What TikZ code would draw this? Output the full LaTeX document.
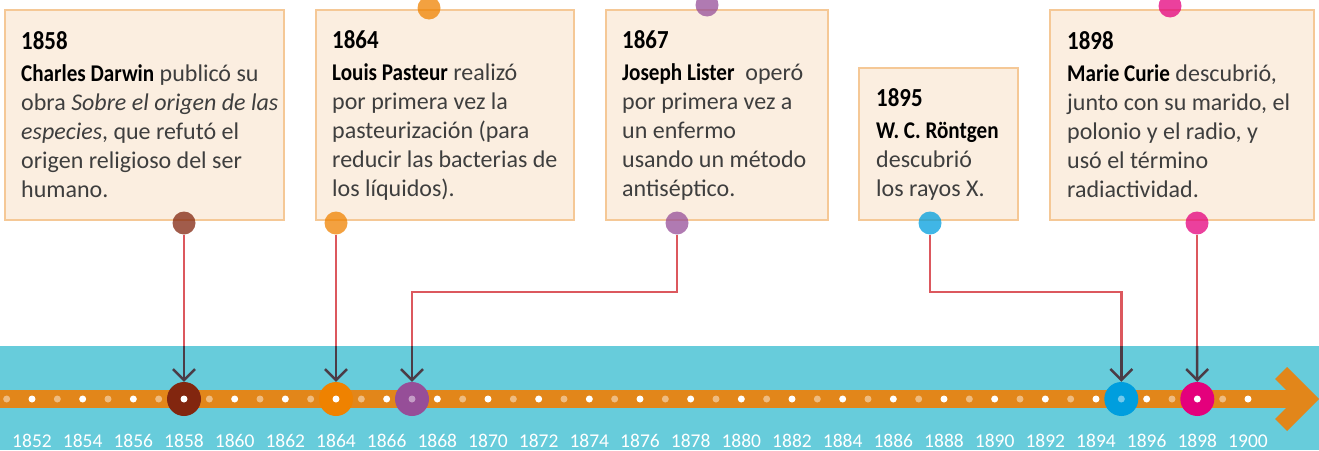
\documentclass[tikz,border=0pt]{standalone}
\usepackage{fontspec}
\setmainfont{Carlito}[BoldFeatures={FakeStretch=0.88}]
\usetikzlibrary{arrows.meta,positioning,calc}
\definecolor{bandcyan}{RGB}{103,204,219}
\definecolor{barorange}{RGB}{226,134,26}
\definecolor{boxfill}{RGB}{251,238,224}
\definecolor{boxline}{RGB}{245,200,150}
\definecolor{linkred}{RGB}{220,88,94}
\definecolor{pointerdark}{RGB}{75,60,70}
\definecolor{bodygray}{RGB}{62,62,62}
\definecolor{darwinc}{RGB}{130,38,15}
\definecolor{pasteurc}{RGB}{239,130,0}
\definecolor{listerc}{RGB}{150,78,152}
\definecolor{rontgenc}{RGB}{0,158,222}
\definecolor{curiec}{RGB}{228,0,124}

\begin{document}
\begin{tikzpicture}[x=1pt, y=-1pt,
    event/.style={anchor=north west, draw=boxline, line width=2pt, fill=boxfill, minimum height=210pt, inner sep=0pt},
    words/.style={inner sep=0pt, align=left, font=\fontsize{24}{29}\selectfont, text=bodygray},
    pin/.style={circle, fill=#1, opacity=0.75, minimum size=23pt, inner sep=0pt},
    stamp/.style={circle, fill=#1, minimum size=34pt, inner sep=0pt},
    link/.style={draw=linkred, line width=2.5pt},
    pointer/.style={draw=pointerdark, line width=2.5pt, -{Straight Barb[length=11pt, width=22pt]}},
    yr/.style={text=white, font=\fontsize{19.5}{20}\selectfont, anchor=base, inner sep=0pt},
]
    \useasboundingbox (0,0) rectangle (1319,450);
    \clip (0,0) rectangle (1319,450);

    % timeline band and bar
    \fill[bandcyan] (0,346) rectangle (1319,450);
    \coordinate (bandtop) at (0,346);
    \fill[barorange] (0,390) rectangle (1296,408);
    \fill[barorange] (1275,379) -- (1287,367) -- (1319,399) -- (1287,431) -- (1275,419) -- (1295,399) -- cycle;

    % boxes
    \node[event, minimum width=279pt] (darwin) at (4,9) {};
    \node[event, minimum width=258pt] (pasteur) at (315,9) {};
    \node[event, minimum width=222pt] (lister) at (605,9) {};
    \node[event, minimum width=159pt, minimum height=152pt] (rontgen) at (858,67) {};
    \node[event, minimum width=264pt] (curie) at (1049,9) {};

    \node[words, right=17pt of darwin.west] (darwin-text) {{\color{black}\bfseries\fontsize{26}{29}\selectfont 1858}\\[3pt]
        {\color{black}\bfseries Charles Darwin} publicó su\\ obra \textit{Sobre el origen de las}\\ \textit{especies}, que refutó el\\ origen religioso del ser\\ humano.};
    \node[words, right=17pt of pasteur.west] (pasteur-text) {{\color{black}\bfseries\fontsize{26}{29}\selectfont 1864}\\[3pt]
        {\color{black}\bfseries Louis Pasteur} realizó\\ por primera vez la\\ pasteurización (para\\ reducir las bacterias de\\ los líquidos).};
    \node[words, right=17pt of lister.west] (lister-text) {{\color{black}\bfseries\fontsize{26}{29}\selectfont 1867}\\[3pt]
        {\color{black}\bfseries Joseph Lister}\ \ operó\\ por primera vez a\\ un enfermo\\ usando un método\\ antiséptico.};
    \node[words, right=18pt of rontgen.west] (rontgen-text) {{\color{black}\bfseries\fontsize{26}{29}\selectfont 1895}\\[3pt]
        {\color{black}\bfseries W. C. Röntgen}\\ descubrió\\ los rayos X.};
    \node[words, right=18pt of curie.west] (curie-text) {{\color{black}\bfseries\fontsize{26}{29}\selectfont 1898}\\[3pt]
        {\color{black}\bfseries Marie Curie} descubrió,\\ junto con su marido, el\\ polonio y el radio, y\\ usó el término\\ radiactividad.};

    % pins on the boxes
    \node[pin=darwinc] (darwin-pin) at (184,223) {};
    \node[pin=pasteurc] (pasteur-pin) at (336,223) {};
    \node[pin=pasteurc] (pasteur-top) at (429,8) {};
    \node[pin=listerc] (lister-pin) at (677,223) {};
    \node[pin=listerc] (lister-top) at (707,5) {};
    \node[pin=rontgenc] (rontgen-pin) at (930,223) {};
    \node[pin=curiec] (curie-pin) at (1197,223) {};
    \node[pin=curiec] (curie-top) at (1170,6) {};

    % events on the line
    \node[stamp=darwinc] (e1858) at (184,399) {};
    \node[stamp=pasteurc] (e1864) at (336,399) {};
    \node[stamp=listerc] (e1867) at (412,399) {};
    \node[stamp=rontgenc] (e1895) at (1121.3,399) {};
    \node[stamp=curiec] (e1898) at (1197.3,399) {};

    % dots and years
    \foreach \yr in {1851,...,1900} {
        \pgfmathsetmacro\px{32+(\yr-1852)*25.333}
        \pgfmathsetmacro\op{mod(\yr,2)==1 ? 0.45 : 1}
        \fill[white, opacity=\op] (\px,399) circle (3.5);
    }
    \foreach \yr in {1852,1854,...,1900} {
        \pgfmathsetmacro\px{32+(\yr-1852)*25.333}
        \node[yr] (y\yr) at (\px,447) {\yr};
    }

    % connectors
    \draw[link] (darwin-pin.south) -- (darwin-pin |- bandtop);
    \draw[pointer] (darwin-pin |- bandtop) -- (e1858);
    \draw[link] (pasteur-pin.south) -- (pasteur-pin |- bandtop);
    \draw[pointer] (pasteur-pin |- bandtop) -- (e1864);
    \draw[link] (lister-pin.south) |- (e1867 |- 0,292) -- (e1867 |- bandtop);
    \draw[pointer] (e1867 |- bandtop) -- (e1867);
    \draw[link] (rontgen-pin.south) |- (e1895 |- 0,292) -- (e1895 |- bandtop);
    \draw[pointer] (e1895 |- bandtop) -- (e1895);
    \draw[link] (curie-pin.south) -- (curie-pin |- bandtop);
    \draw[pointer] (curie-pin |- bandtop) -- (e1898);
\end{tikzpicture}
\end{document}
